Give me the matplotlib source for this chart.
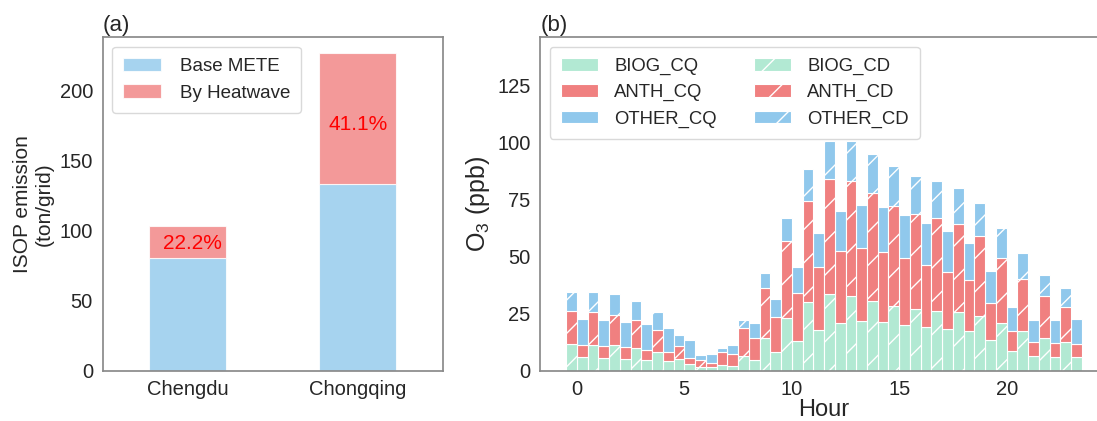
import matplotlib
matplotlib.use("Agg")
import matplotlib.pyplot as plt
import numpy as np

plt.rcParams["font.family"] = ["Liberation Sans", "DejaVu Sans"]
plt.rcParams["mathtext.default"] = "regular"
plt.rcParams["text.color"] = "#262626"
plt.rcParams["axes.labelcolor"] = "#262626"
plt.rcParams["xtick.color"] = "#262626"
plt.rcParams["ytick.color"] = "#262626"

# panel (a): isoprene emission
cities = ["Chengdu", "Chongqing"]
isop_base = [80.5, 133.7]
isop_heat = [23.0, 93.3]
isop_pct = ["22.2%", "41.1%"]

# panel (b): O3 source contributions by hour
hours = list(range(24))
biog_cq = [6.0, 5.5, 5.2, 4.8, 4.4, 3.0, 1.8, 1.9, 4.5, 8.0, 13.1, 17.9,
           20.8, 21.9, 21.3, 20.1, 19.1, 18.2, 17.2, 13.5, 8.6, 6.4, 5.8, 6.0]
anth_cq = [5.2, 5.1, 5.0, 4.4, 3.6, 2.4, 1.6, 5.5, 9.9, 15.3, 20.9, 27.4,
           31.5, 31.7, 30.8, 29.2, 27.1, 25.2, 22.5, 16.1, 9.0, 6.2, 6.3, 5.7]
other_cq = [11.4, 11.7, 11.2, 11.3, 10.5, 8.0, 4.0, 3.8, 6.3, 8.2, 11.5, 14.9,
            17.8, 18.8, 19.6, 18.9, 18.5, 17.9, 16.2, 14.1, 10.1, 9.4, 10.2, 11.0]
biog_cd = [11.7, 11.4, 11.1, 9.9, 8.4, 5.3, 1.8, 2.5, 6.6, 14.3, 22.9, 29.9,
           33.7, 32.9, 30.7, 28.4, 26.8, 26.2, 25.6, 24.0, 20.8, 17.2, 14.3, 12.4]
anth_cd = [14.5, 14.2, 13.5, 12.1, 9.5, 5.7, 3.0, 5.5, 12.0, 21.8, 33.9, 44.5,
           50.3, 50.1, 47.0, 43.6, 42.0, 40.5, 38.8, 35.1, 28.5, 22.9, 18.5, 15.7]
other_cd = [8.2, 8.9, 9.1, 8.5, 7.6, 4.7, 1.9, 2.0, 3.7, 6.7, 10.2, 13.8,
            16.4, 17.7, 17.4, 17.6, 16.6, 16.3, 15.6, 14.5, 13.1, 11.3, 9.2, 8.3]

c_biog = "#b2e9d3"
c_anth = "#f08080"
c_other = "#90c8ec"
spine_c = "#8a8a8a"


def style_axes(ax):
    for s in ax.spines.values():
        s.set_color(spine_c)
        s.set_linewidth(1.25)
    ax.tick_params(length=0, labelsize=14.5, pad=7)


def plot_isop(ax):
    x = np.arange(len(cities))
    base = np.array(isop_base)
    heat = np.array(isop_heat)
    ax.bar(x, base, width=0.45, color=c_other, alpha=0.8, edgecolor="white", lw=0.8, label="Base METE")
    ax.bar(x, heat, width=0.45, bottom=base, color=c_anth, alpha=0.8, edgecolor="white", lw=0.8,
           label="By Heatwave")
    for i, txt in enumerate(isop_pct):
        ax.text(x[i] + (0.03 if i == 0 else 0), base[i] + heat[i] * 0.45, txt, color="red",
                ha="center", va="center", fontsize=15)
    ax.set_xlim(-0.5, 1.5)
    ax.set_xticks(x)
    ax.set_xticklabels(cities)
    ax.set_ylabel("ISOP emission\n(ton/grid)", fontsize=15)
    style_axes(ax)
    ax.legend(loc="upper left", fontsize=13.5, handlelength=2.0, handletextpad=1.0,
              borderpad=0.6, edgecolor="#d0d0d0")
    ax.text(0, 1.005, "(a)", transform=ax.transAxes, fontsize=16, va="bottom", ha="left")


def plot_o3(ax):
    x = np.array(hours)
    w = 0.5
    kw = dict(width=w, edgecolor="white", lw=0.8)
    b1 = np.array(biog_cq)
    a1 = np.array(anth_cq)
    o1 = np.array(other_cq)
    b2 = np.array(biog_cd)
    a2 = np.array(anth_cd)
    o2 = np.array(other_cd)

    xq = x + 0.25
    xd = x - 0.25
    ax.bar(xq, b1, color=c_biog, label="BIOG_CQ", **kw)
    ax.bar(xq, a1, bottom=b1, color=c_anth, label="ANTH_CQ", **kw)
    ax.bar(xq, o1, bottom=b1 + a1, color=c_other, label="OTHER_CQ", **kw)
    ax.bar(xd, b2, color=c_biog, hatch="/", label="BIOG_CD", **kw)
    ax.bar(xd, a2, bottom=b2, color=c_anth, hatch="/", label="ANTH_CD", **kw)
    ax.bar(xd, o2, bottom=b2 + a2, color=c_other, hatch="/", label="OTHER_CD", **kw)

    ax.set_ylim(0, 146)
    ax.set_xticks([0, 5, 10, 15, 20])
    ax.set_yticks([0, 25, 50, 75, 100, 125])
    ax.set_xlabel("Hour", fontsize=17, labelpad=0)
    ax.set_ylabel("$O_3$ (ppb)", fontsize=18)
    style_axes(ax)
    ax.legend(loc="upper left", ncol=2, fontsize=13.3, handlelength=2.0, handletextpad=0.9,
              columnspacing=2.0, borderpad=0.6, edgecolor="#d0d0d0")
    ax.text(0, 1.005, "(b)", transform=ax.transAxes, fontsize=16, va="bottom", ha="left")


fig = plt.figure(figsize=(10.97, 4.21), dpi=100)
ax1 = fig.add_axes([0.0936, 0.1195, 0.31, 0.7919])
ax2 = fig.add_axes([0.4925, 0.1195, 0.5173, 0.7919])

plot_isop(ax1)
plot_o3(ax2)

fig.savefig("out.png", dpi=100)
